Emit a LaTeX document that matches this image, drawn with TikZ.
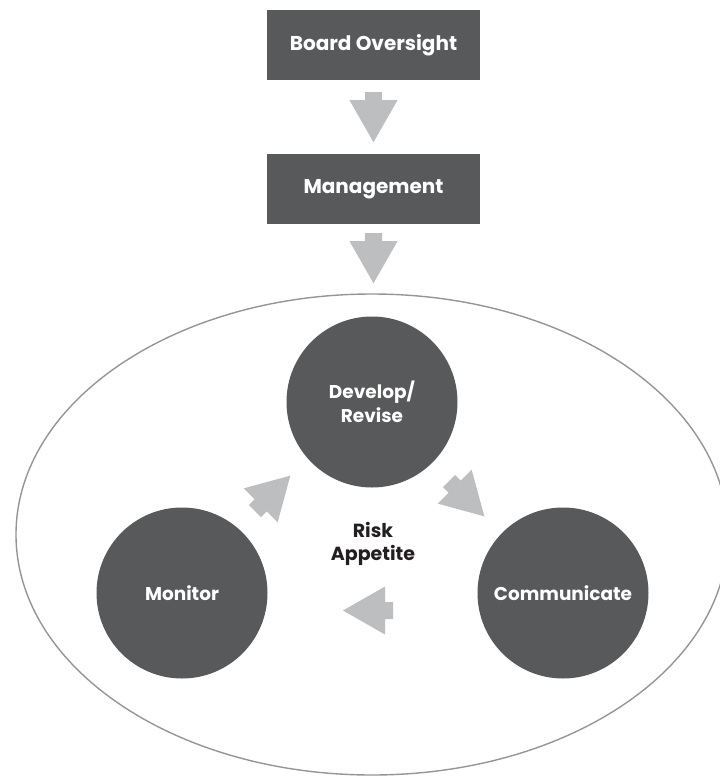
\documentclass[tikz,border=0pt]{standalone}
\usepackage{fontspec}
\setmainfont{Poppins}
\usetikzlibrary{shapes.geometric,calc}
\definecolor{boxgrey}{HTML}{58595B}
\definecolor{arrowgrey}{HTML}{BCBEC0}
\definecolor{rimgrey}{HTML}{939598}
\definecolor{inkblack}{HTML}{231F20}
\begin{document}
\begin{tikzpicture}[x=1pt,y=-1pt,
  levelbox/.style={rectangle, fill=boxgrey, minimum width=213pt, minimum height=70pt,
    inner sep=0pt, text=white, font=\bfseries\fontsize{20}{24}\selectfont},
  stage/.style={circle, fill=boxgrey, minimum size=171pt, inner sep=0pt,
    text=white, align=center, font=\bfseries\fontsize{18.5}{24}\selectfont},
  hub/.style={align=center, text=inkblack, font=\bfseries\fontsize{19}{23}\selectfont},
  blockarrow/.pic={\fill[arrowgrey] (0,-8.5) -- (8,-8.5) -- (8,-24) -- (50,0)
    -- (8,24) -- (8,8.5) -- (0,8.5) -- cycle;}
]
\useasboundingbox (0,0) rectangle (720,777);

% governance chain
\node[levelbox] (board) at (373.5,45) {Board Oversight};
\node[levelbox] (mgmt) at (373.5,189) {Management};

% outer field holding the cycle
\node[ellipse, draw=rimgrey, line width=1.4pt, minimum width=712pt,
  minimum height=481pt, inner sep=0pt] (field) at (372,534.5) {};

% cycle stages
\node[stage] (dev) at (372,402) {Develop/\\Revise};
\node[stage] (mon) at (182,593) {Monitor};
\node[stage] (com) at (563,593) {Communicate};
\node[hub] (risk) at (373,544) {Risk\\Appetite};

% block arrows
\pic[rotate=-90] at ($(board.south)+(0,12)$) {blockarrow};
\pic[rotate=-90] at ($(mgmt.south)+(0,9)$) {blockarrow};
\pic[rotate=45] at (255,511) {blockarrow};
\pic[rotate=-45] at (449,481) {blockarrow};
\pic[rotate=180] at (393,610.5) {blockarrow};
\end{tikzpicture}
\end{document}
